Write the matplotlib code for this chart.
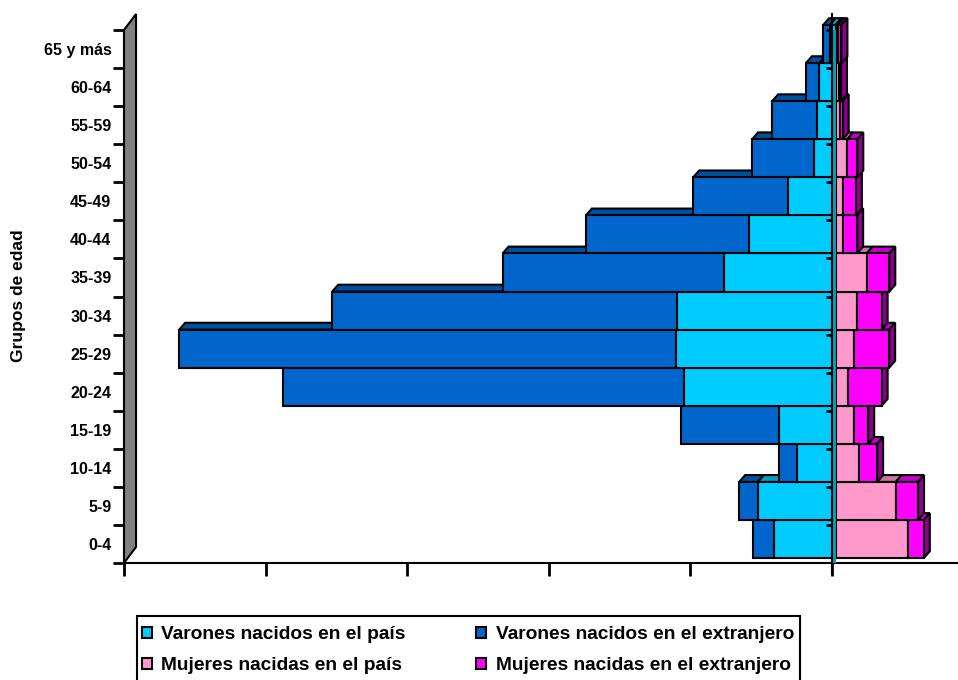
import numpy as np
import matplotlib
matplotlib.use("Agg")
import matplotlib.pyplot as plt
from matplotlib.patches import Polygon, Patch, Rectangle
from matplotlib.colors import to_rgb

# Grupos de edad, de abajo hacia arriba
grupos = ["0-4", "5-9", "10-14", "15-19", "20-24", "25-29", "30-34",
          "35-39", "40-44", "45-49", "50-54", "55-59", "60-64", "65 y más"]

# Valores (unidades arbitrarias, 10 por division)
varones_pais = [4.36, 5.49, 2.74, 3.97, 10.70, 11.30, 11.21,
                7.89, 6.13, 3.39, 1.54, 1.34, 1.16, 0.41]
varones_extranjero = [1.48, 1.32, 1.25, 6.96, 28.34, 35.06, 24.34,
                      15.63, 11.51, 6.67, 4.36, 3.14, 0.94, 0.47]
mujeres_pais = [5.08, 4.25, 1.66, 1.29, 0.89, 1.29, 1.48,
                2.19, 0.51, 0.53, 0.82, 0.30, 0.23, 0.16]
mujeres_extranjero = [1.15, 1.57, 1.27, 1.01, 2.36, 2.49, 1.77,
                      1.60, 1.01, 0.90, 0.71, 0.20, 0.15, 0.25]

etiquetas = ["Varones nacidos en el país", "Mujeres nacidas en el país",
             "Varones nacidos en el extranjero", "Mujeres nacidas en el extranjero"]
c_vp, c_ve, c_mp, c_me = "#00CCFF", "#0066CC", "#FF99CC", "#FF00FF"

# efecto 3D (en unidades de datos)
WALL_DX, WALL_DY = 0.85, 0.42
SHIFT_X, SHIFT_Y = 0.26, 0.13
DEPTH_X, DEPTH_Y = 0.42, 0.18
LW = 1.5

plt.rcParams['font.family'] = ['Liberation Sans', 'DejaVu Sans']
plt.rcParams['font.weight'] = 'bold'


def shade(color, f):
    r, g, b = to_rgb(color)
    return (r * f, g * f, b * f)


def top_face(ax, x0, x1, y, color, z):
    pts = [(x0, y), (x1, y), (x1 + DEPTH_X, y + DEPTH_Y), (x0 + DEPTH_X, y + DEPTH_Y)]
    ax.add_patch(Polygon(pts, closed=True, facecolor=shade(color, 0.78),
                         edgecolor="black", lw=LW, zorder=z, clip_on=False))


def side_face(ax, x, y0, y1, color, z):
    pts = [(x, y0), (x + DEPTH_X, y0 + DEPTH_Y), (x + DEPTH_X, y1 + DEPTH_Y), (x, y1)]
    ax.add_patch(Polygon(pts, closed=True, facecolor=shade(color, 0.55),
                         edgecolor="black", lw=LW, zorder=z, clip_on=False))


fig = plt.figure(figsize=(9.58, 6.8), dpi=100)
ax = fig.add_axes([124 / 958, (680 - 563) / 680, (958 - 124) / 958, (563 - 30) / 680])
ax.set_xlim(-50, 8.9)
ax.set_ylim(-0.5, 13.5)

y = np.arange(len(grupos))
vp = np.array(varones_pais)
ve = np.array(varones_extranjero)
mp = np.array(mujeres_pais)
me = np.array(mujeres_extranjero)

# caras frontales
b_vp = ax.barh(y + SHIFT_Y, -vp, left=SHIFT_X, height=1.0, color=c_vp,
               edgecolor="black", lw=LW)
b_ve = ax.barh(y + SHIFT_Y, -ve, left=SHIFT_X - vp, height=1.0, color=c_ve,
               edgecolor="black", lw=LW)
b_mp = ax.barh(y + SHIFT_Y, mp, left=SHIFT_X, height=1.0, color=c_mp,
               edgecolor="black", lw=LW)
b_me = ax.barh(y + SHIFT_Y, me, left=SHIFT_X + mp, height=1.0, color=c_me,
               edgecolor="black", lw=LW)

for i in range(len(grupos)):
    zf = 3 + 2 * i
    for cont in (b_vp, b_ve, b_mp, b_me):
        cont[i].set_zorder(zf)
        cont[i].set_clip_on(False)
    y_top = i + 0.5 + SHIFT_Y
    y_bot = i - 0.5 + SHIFT_Y
    # caras superiores
    top_face(ax, SHIFT_X - vp[i] - ve[i], SHIFT_X - vp[i], y_top, c_ve, zf - 1)
    top_face(ax, SHIFT_X - vp[i], SHIFT_X, y_top, c_vp, zf - 1)
    top_face(ax, SHIFT_X, SHIFT_X + mp[i], y_top, c_mp, zf - 1)
    top_face(ax, SHIFT_X + mp[i], SHIFT_X + mp[i] + me[i], y_top, c_me, zf - 1)
    # cara lateral derecha
    side_face(ax, SHIFT_X + mp[i] + me[i], y_bot, y_top, c_me, zf - 1)

# pared izquierda gris
wall = [(-50, -0.5), (-50 + WALL_DX, -0.5 + WALL_DY),
        (-50 + WALL_DX, 13.5 + WALL_DY), (-50, 13.5)]
ax.add_patch(Polygon(wall, closed=True, facecolor="#808080", edgecolor="black",
                     lw=LW, zorder=1, clip_on=False))

# eje en cero con marcas
ax.axvspan(0, SHIFT_X, ymin=0, ymax=1, facecolor="#00A0B0", lw=0, zorder=99)
ax.plot([0, 0], [-0.8, 13.5 + WALL_DY], color="black", lw=LW, zorder=100,
        clip_on=False)
for b in np.arange(0.5, 14, 1):
    ax.plot([-0.45, 0], [b, b], color="black", lw=2, zorder=100,
            solid_capstyle="butt", clip_on=False)

for s in ("left", "top", "right"):
    ax.spines[s].set_visible(False)
ax.spines["bottom"].set_linewidth(LW)
ax.spines["bottom"].set_zorder(0.5)

ax.set_xticks(np.arange(-50, 1, 10))
ax.tick_params(axis="x", length=9, width=2, direction="out", labelbottom=False)
ax.set_yticks(y)
ax.set_yticklabels(grupos, fontsize=11.5, fontweight="bold")
ax.set_yticks(np.arange(-0.5, 14, 1), minor=True)
ax.tick_params(axis="y", which="major", length=0, pad=9)
ax.tick_params(axis="y", which="minor", length=8, width=2, direction="out")

fig.text(19 / 958, 1 - 296 / 680, "Grupos de edad", rotation=90, ha="center",
         va="center", fontsize=12.5, fontweight="bold")

# leyenda (el marco queda cortado por el borde inferior, como en el original)
handles = [Patch(facecolor=c, edgecolor="black", lw=LW) for c in (c_vp, c_mp, c_ve, c_me)]
leg = fig.legend(handles, etiquetas, ncol=2, loc="upper left",
                 bbox_to_anchor=(142 / 958, 1 - 626 / 680),
                 prop={"size": 13.8, "weight": "bold"},
                 frameon=False, borderpad=0,
                 handlelength=0.5, handleheight=0.5, handletextpad=0.5,
                 columnspacing=3.7, labelspacing=0.75, borderaxespad=0)
fig.add_artist(Rectangle((137 / 958, -0.1), (800 - 137) / 958, (680 - 616) / 680 + 0.1,
                         transform=fig.transFigure, fill=False, edgecolor="black",
                         lw=LW))

fig.savefig("out.png", dpi=100)
